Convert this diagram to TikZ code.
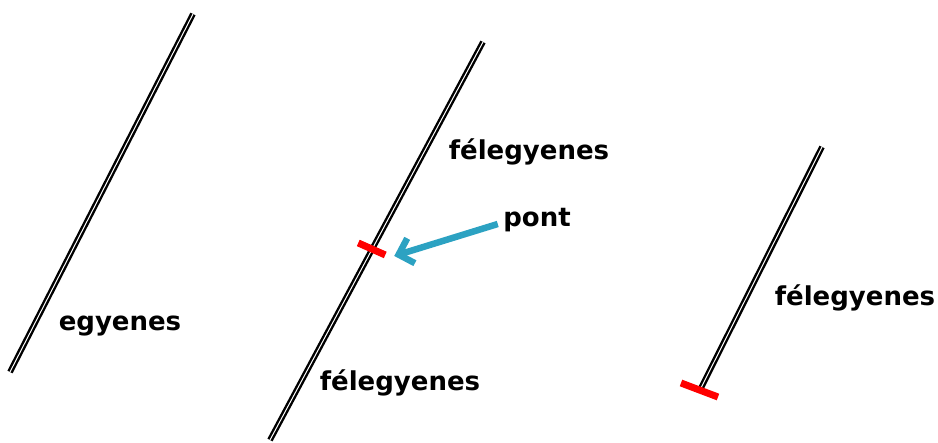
\documentclass[tikz,border=0pt]{standalone}
\usepackage{fontspec}
\setmainfont{DejaVu Sans}
\usetikzlibrary{arrows.meta,calc}
\definecolor{turkiz}{RGB}{44,162,194}

\begin{document}
\begin{tikzpicture}[x=1pt, y=-1pt, >=latex,
    vonal/.style={line width=2.4pt, double=white, double distance=1pt},
    jel/.style={red, line width=7pt},
    felirat/.style={font=\bfseries\fontsize{26}{30}\selectfont},
    nyil/.style={line width=6.5pt, color=turkiz,
        -{Straight Barb[length=13pt, width=26pt, line width=6.5pt]}}]

        \useasboundingbox (0,0) rectangle (938,443);

        % ==== EGYENES ====
        \coordinate (e1) at (10,372);
        \coordinate (e2) at (193,14);
        \draw[vonal] (e1) -- (e2);
        \node[felirat] (egy) at (120,326) {egyenes};

        % ==== KET FELEGYENES, KOZTUK A PONT ====
        \coordinate (f1) at (270,440);
        \coordinate (f2) at (483,42);
        \draw[vonal] (f1) -- (f2);
        \coordinate (p) at ($(f1)!0.48!(f2)$);
        \draw[jel] ([shift={(-14,-6)}]p) -- ([shift={(13,6)}]p);
        \node[felirat] (fel1) at (529,152) {félegyenes};
        \node[felirat] (fel2) at (400,383) {félegyenes};
        \node[felirat] (pont) at (537,220) {pont};
        \draw[nyil] ([shift={(-2,4)}]pont.west) -- ([shift={(22,7)}]p);

        % ==== FELEGYENES KEZDOPONTTAL ====
        \coordinate (g1) at (700,390);
        \coordinate (g2) at (822,147);
        \draw[vonal] (g1) -- (g2);
        \draw[jel] ([shift={(-19,-7)}]g1) -- ([shift={(18,7)}]g1);
        \node[felirat] (fel3) at (855,298) {félegyenes};

    \end{tikzpicture}
\end{document}
